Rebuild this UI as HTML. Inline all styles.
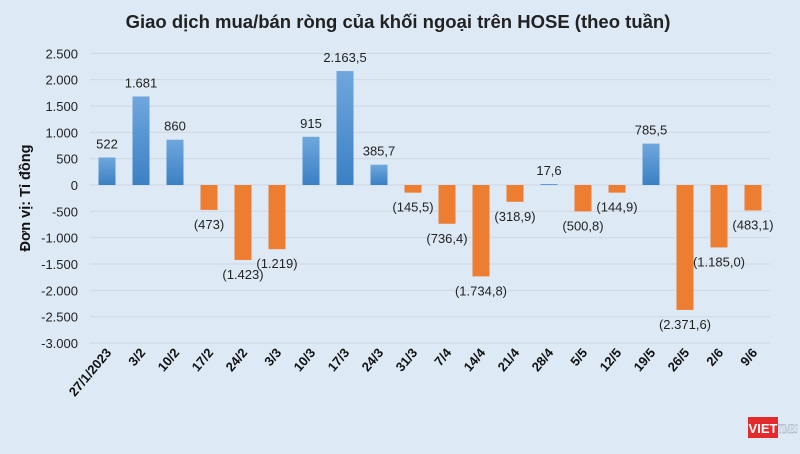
<!DOCTYPE html>
<html><head><meta charset="utf-8"><style>
body{margin:0;width:800px;height:449px;overflow:hidden;background:#dde9f5;font-family:"Liberation Sans",sans-serif}
</style></head><body>
<svg width="800" height="449" xmlns="http://www.w3.org/2000/svg">
<defs><linearGradient id="bg" x1="0" y1="0" x2="0" y2="1"><stop offset="0" stop-color="#6fa7dd"/><stop offset="1" stop-color="#3b80c4"/></linearGradient></defs>
<rect width="800" height="449" fill="#dde9f5"/>
<text x="398" y="28" text-anchor="middle" font-size="18.5" font-weight="bold" fill="#222">Giao dịch mua/bán ròng của khối ngoại trên HOSE (theo tuần)</text>
<text transform="translate(30,198) rotate(-90)" text-anchor="middle" font-size="14.5" font-weight="bold" fill="#111">Đơn vị: Tỉ đồng</text>
<g id="grid"></g><g id="bars"></g><g id="labels"></g><g id="xl"></g>
<g>
<rect x="748" y="417" width="30" height="21" fill="#e32b2b"/>
<text x="763" y="433" text-anchor="middle" font-size="13" font-weight="bold" fill="#fff">VIET</text>
<text x="778" y="433" font-size="13" font-family="Liberation Serif,serif" fill="#eef3f8" stroke="#9aa8b8" stroke-width="0.4" textLength="20" lengthAdjust="spacingAndGlyphs">TIMES</text>
</g>
</svg>
<script>
const categories=["27/1/2023","3/2","10/2","17/2","24/2","3/3","10/3","17/3","24/3","31/3","7/4","14/4","21/4","28/4","5/5","12/5","19/5","26/5","2/6","9/6"];
const values=[522,1681,860,-473,-1423,-1219,915,2163.5,385.7,-145.5,-736.4,-1734.8,-318.9,17.6,-500.8,-144.9,785.5,-2371.6,-1185,-483.1];
const valueLabels=["522","1.681","860","(473)","(1.423)","(1.219)","915","2.163,5","385,7","(145,5)","(736,4)","(1.734,8)","(318,9)","17,6","(500,8)","(144,9)","785,5","(2.371,6)","(1.185,0)","(483,1)"];
const yTicks=[2500,2000,1500,1000,500,0,-500,-1000,-1500,-2000,-2500,-3000];
const yTickLabels=["2.500","2.000","1.500","1.000","500","0","-500","-1.000","-1.500","-2.000","-2.500","-3.000"];
const NS="http://www.w3.org/2000/svg";
const x0=90,x1=770,bw=(x1-x0)/categories.length;
const y=v=>185-v*(158/3000);
const xc=i=>x0+bw*(i+0.5);
function mk(t,a,p,txt){const e=document.createElementNS(NS,t);for(const k in a)e.setAttribute(k,a[k]);if(txt!=null)e.textContent=txt;document.getElementById(p).appendChild(e);return e;}
yTicks.forEach((v,i)=>{
const l=mk('line',{x1:x0,x2:x1,y1:y(v),y2:y(v),stroke:'#d0d8e2','stroke-width':1},'grid');


const t=mk('text',{x:78,y:y(v)+5,'text-anchor':'end','font-size':13,fill:'#222'},'grid',yTickLabels[i]);


});
values.forEach((v,i)=>{
const w=bw*0.5,top=Math.min(y(v),y(0)),h=Math.max(Math.abs(y(v)-y(0)),0.8);
const r=mk('rect',{x:xc(i)-w/2,y:top,width:w,height:h,fill:v>=0?'url(#bg)':'#ed7d31'},'bars');


const ly=v>=0?y(v)-9:y(v)+19;
const t=mk('text',{x:xc(i),y:ly,'text-anchor':'middle','font-size':13,fill:'#222'},'labels',valueLabels[i]);


const xl=mk('text',{transform:`translate(${xc(i)+5},353) rotate(-50)`,'text-anchor':'end','font-size':13,'font-weight':'bold',fill:'#111'},'xl',categories[i]);


});
</script>
</body></html>
